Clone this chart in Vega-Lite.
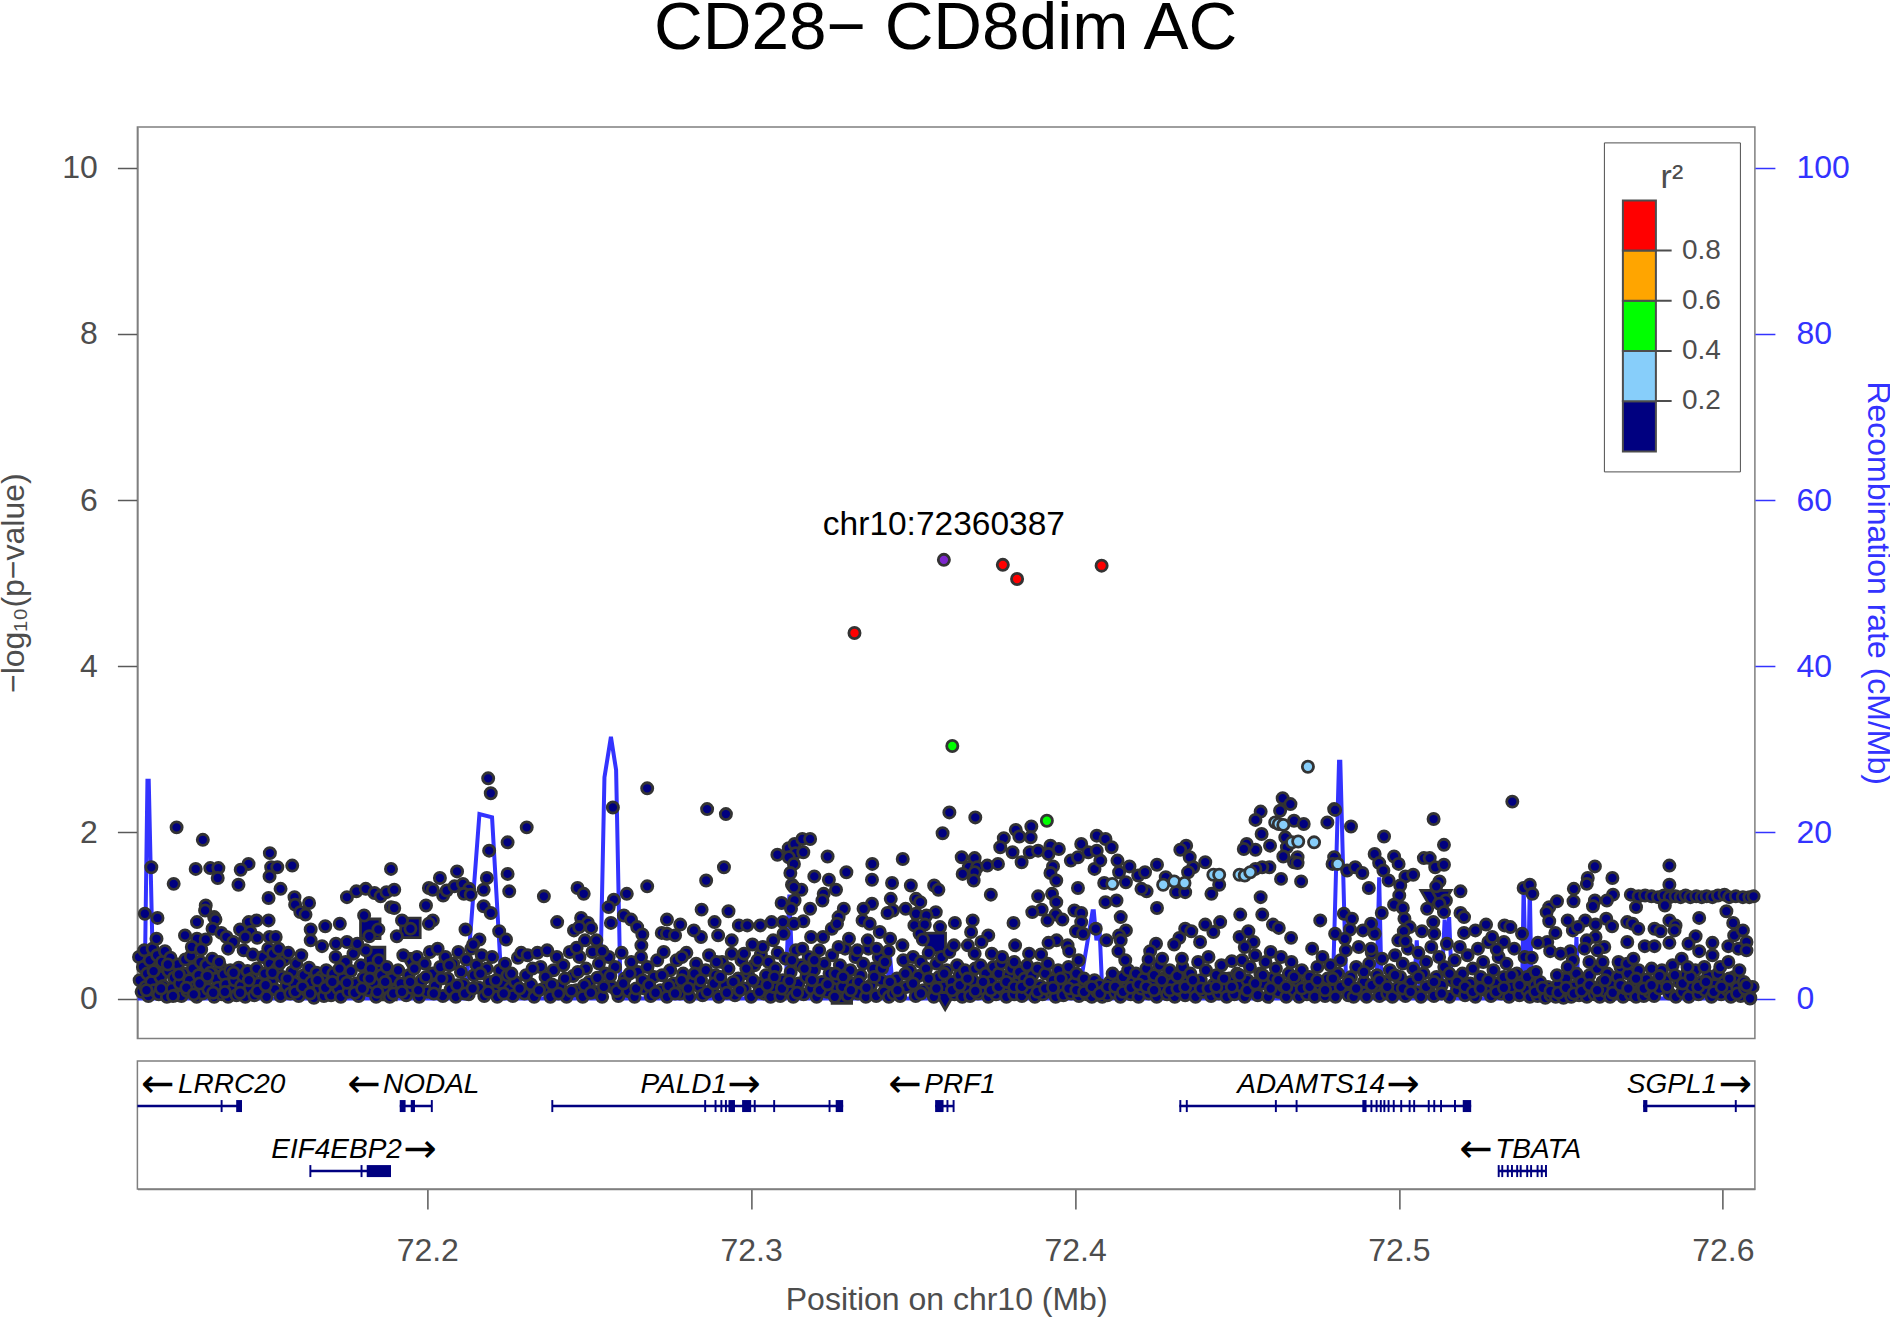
{"$schema":"https://vega.github.io/schema/vega-lite/v6.json","padding":{"top":-6,"left":-3.6,"right":0,"bottom":0},"background":"white",
"title":{"text":"CD28− CD8dim AC","fontSize":67.5,"font":"Liberation Sans","fontWeight":"normal","color":"black","anchor":"middle","offset":63},
"config":{"font":"Liberation Sans","view":{"stroke":"#7f7f7f","strokeWidth":1.5},"axis":{"grid":false,"labelFont":"Liberation Sans","titleFont":"Liberation Sans","labelFontSize":32,"titleFontSize":32,"titleFontWeight":"normal","tickSize":20,"tickWidth":1.5,"labelPadding":20,"labelColor":"#4d4d4d","titleColor":"#4d4d4d","tickColor":"#595959","domainColor":"#7f7f7f","domainWidth":1.5}},
"datasets":{
"recomb":[{"p":72.1105,"c":0},{"p":72.1127,"c":0},{"p":72.1136,"c":26.2},{"p":72.114,"c":26.2},{"p":72.1155,"c":0},{"p":72.2118,"c":0},{"p":72.2161,"c":22.2},{"p":72.22,"c":21.8},{"p":72.2232,"c":0},{"p":72.2533,"c":0},{"p":72.2547,"c":26.6},{"p":72.2567,"c":31.5},{"p":72.2583,"c":27.5},{"p":72.2597,"c":0},{"p":72.3105,"c":0},{"p":72.3118,"c":12.5},{"p":72.313,"c":0},{"p":72.3415,"c":0},{"p":72.3429,"c":5},{"p":72.344,"c":0},{"p":72.4009,"c":0},{"p":72.4054,"c":10.5},{"p":72.4058,"c":10.5},{"p":72.4066,"c":7},{"p":72.4075,"c":9},{"p":72.4085,"c":0},{"p":72.4795,"c":0},{"p":72.4815,"c":28.5},{"p":72.4819,"c":28.5},{"p":72.4838,"c":0},{"p":72.493,"c":0},{"p":72.4939,"c":14.6},{"p":72.4947,"c":0},{"p":72.5045,"c":0},{"p":72.5055,"c":7},{"p":72.5065,"c":0},{"p":72.513,"c":0},{"p":72.5141,"c":9.5},{"p":72.5148,"c":6},{"p":72.5155,"c":9.8},{"p":72.5165,"c":0},{"p":72.538,"c":0},{"p":72.5385,"c":13.6},{"p":72.5393,"c":0},{"p":72.5398,"c":0},{"p":72.5404,"c":13.4},{"p":72.541,"c":0},{"p":72.5541,"c":0},{"p":72.5548,"c":7.4},{"p":72.5555,"c":0},{"p":72.6099,"c":0}],
"special":[{"p":72.1824,"l":0.84,"k":"square"},{"p":72.1948,"l":0.85,"k":"square"},{"p":72.1839,"l":0.5,"k":"square"},{"p":72.1853,"l":0.3,"k":"square"},{"p":72.1874,"l":0.1,"k":"square"},{"p":72.357,"l":0.67,"k":"square"},{"p":72.328,"l":0.06,"k":"square"},{"p":72.1948,"l":0.44,"k":"triangle-down"},{"p":72.3599,"l":-0.03,"k":"triangle-down"},{"p":72.5098,"l":1.2,"k":"triangle-down"},{"p":72.5131,"l":1.2,"k":"triangle-down"}],
"lead":[{"p":72.3595,"l":5.28,"snp":"chr10:72360387"}],
"thr":[{"t":0.2},{"t":0.4},{"t":0.6},{"t":0.8}],
"lines":[{"s":72.1105,"e":72.1428,"row":0.648},{"s":72.1915,"e":72.2014,"row":0.648},{"s":72.2386,"e":72.3284,"row":0.648},{"s":72.3568,"e":72.3625,"row":0.648},{"s":72.4322,"e":72.5223,"row":0.648},{"s":72.5754,"e":72.6099,"row":0.648},{"s":72.1639,"e":72.1888,"row":0.14},{"s":72.5307,"e":72.5453,"row":0.14}],
"exons":[{"s":72.1362,"e":72.1368,"row":0.648},{"s":72.141,"e":72.1428,"row":0.648},{"s":72.1915,"e":72.1933,"row":0.648},{"s":72.1949,"e":72.1962,"row":0.648},{"s":72.2011,"e":72.2017,"row":0.648},{"s":72.2383,"e":72.2389,"row":0.648},{"s":72.2855,"e":72.2861,"row":0.648},{"s":72.2887,"e":72.2893,"row":0.648},{"s":72.2905,"e":72.2911,"row":0.648},{"s":72.2919,"e":72.2925,"row":0.648},{"s":72.293,"e":72.295,"row":0.648},{"s":72.2972,"e":72.3,"row":0.648},{"s":72.3008,"e":72.3014,"row":0.648},{"s":72.3068,"e":72.3074,"row":0.648},{"s":72.3239,"e":72.3245,"row":0.648},{"s":72.3261,"e":72.3284,"row":0.648},{"s":72.3568,"e":72.3594,"row":0.648},{"s":72.3603,"e":72.3609,"row":0.648},{"s":72.3622,"e":72.3628,"row":0.648},{"s":72.4322,"e":72.4328,"row":0.648},{"s":72.4342,"e":72.4348,"row":0.648},{"s":72.4617,"e":72.4623,"row":0.648},{"s":72.4681,"e":72.4687,"row":0.648},{"s":72.4887,"e":72.49,"row":0.648},{"s":72.4912,"e":72.4918,"row":0.648},{"s":72.4928,"e":72.4934,"row":0.648},{"s":72.4941,"e":72.4947,"row":0.648},{"s":72.4952,"e":72.4958,"row":0.648},{"s":72.4965,"e":72.4971,"row":0.648},{"s":72.4981,"e":72.4987,"row":0.648},{"s":72.5004,"e":72.501,"row":0.648},{"s":72.503,"e":72.5036,"row":0.648},{"s":72.5044,"e":72.505,"row":0.648},{"s":72.5089,"e":72.5095,"row":0.648},{"s":72.5106,"e":72.5112,"row":0.648},{"s":72.5127,"e":72.5133,"row":0.648},{"s":72.517,"e":72.5176,"row":0.648},{"s":72.5197,"e":72.5223,"row":0.648},{"s":72.5754,"e":72.5767,"row":0.648},{"s":72.6037,"e":72.6043,"row":0.648},{"s":72.1636,"e":72.1642,"row":0.14},{"s":72.1794,"e":72.18,"row":0.14},{"s":72.1813,"e":72.1888,"row":0.14},{"s":72.5305,"e":72.5311,"row":0.14},{"s":72.5316,"e":72.5322,"row":0.14},{"s":72.5333,"e":72.5339,"row":0.14},{"s":72.5346,"e":72.5352,"row":0.14},{"s":72.5362,"e":72.5368,"row":0.14},{"s":72.5373,"e":72.5379,"row":0.14},{"s":72.5393,"e":72.5399,"row":0.14},{"s":72.5405,"e":72.5411,"row":0.14},{"s":72.5425,"e":72.5431,"row":0.14},{"s":72.5438,"e":72.5444,"row":0.14},{"s":72.5451,"e":72.5457,"row":0.14}],
"genes":[{"g":"LRRC20","p":72.1396,"y":0.81},{"g":"NODAL","p":72.2012,"y":0.81},{"g":"PALD1","p":72.2792,"y":0.81},{"g":"PRF1","p":72.3645,"y":0.81},{"g":"ADAMTS14","p":72.4729,"y":0.81},{"g":"SGPL1","p":72.5843,"y":0.81},{"g":"EIF4EBP2","p":72.172,"y":0.305},{"g":"TBATA","p":72.543,"y":0.305}],
"arrows":[{"a":"←","p":72.1168,"y":0.81},{"a":"←","p":72.1805,"y":0.81},{"a":"→","p":72.2979,"y":0.81},{"a":"←","p":72.3475,"y":0.81},{"a":"→","p":72.5013,"y":0.81},{"a":"→","p":72.6039,"y":0.81},{"a":"→","p":72.1978,"y":0.305},{"a":"←","p":72.5238,"y":0.305}],
"pts":[
{"p":72.111,"l":0.5,"r":0},{"p":72.1112,"l":0.22,"r":0},{"p":72.1118,"l":0.08,"r":0},{"p":72.1122,"l":0.38,"r":0},{"p":72.1126,"l":0.58,"r":0},{"p":72.113,"l":0.14,"r":0},{"p":72.1135,"l":0.3,"r":0},{"p":72.1139,"l":0.03,"r":0},{"p":72.1143,"l":0.46,"r":0},{"p":72.1148,"l":0.2,"r":0},{"p":72.1152,"l":0.6,"r":0},{"p":72.1157,"l":0.1,"r":0},{"p":72.1162,"l":0.35,"r":0},{"p":72.1166,"l":0.52,"r":0},{"p":72.1171,"l":0.05,"r":0},{"p":72.1176,"l":0.26,"r":0},{"p":72.1181,"l":0.44,"r":0},{"p":72.1185,"l":0.15,"r":0},{"p":72.119,"l":0.57,"r":0},{"p":72.1196,"l":0.02,"r":0},{"p":72.1201,"l":0.33,"r":0},{"p":72.1207,"l":0.49,"r":0},{"p":72.1212,"l":0.12,"r":0},{"p":72.1218,"l":0.25,"r":0},{"p":72.1224,"l":0.04,"r":0},{"p":72.123,"l":0.41,"r":0},{"p":72.1236,"l":0.18,"r":0},{"p":72.1241,"l":0.03,"r":0},{"p":72.1247,"l":0.3,"r":0},{"p":72.1253,"l":0.47,"r":0},{"p":72.1259,"l":0.09,"r":0},{"p":72.1265,"l":0.22,"r":0},{"p":72.127,"l":0.51,"r":0},{"p":72.1276,"l":0.36,"r":0},{"p":72.1282,"l":0.14,"r":0},{"p":72.1288,"l":0.02,"r":0},{"p":72.1294,"l":0.28,"r":0},{"p":72.13,"l":0.44,"r":0},{"p":72.1306,"l":0.06,"r":0},{"p":72.1312,"l":0.19,"r":0},{"p":72.1318,"l":0.4,"r":0},{"p":72.1324,"l":0.11,"r":0},{"p":72.133,"l":0.31,"r":0},{"p":72.1336,"l":0.48,"r":0},{"p":72.1342,"l":0.02,"r":0},{"p":72.1348,"l":0.24,"r":0},{"p":72.1354,"l":0.13,"r":0},{"p":72.136,"l":0.39,"r":0},{"p":72.1366,"l":0.05,"r":0},{"p":72.1372,"l":0.29,"r":0},{"p":72.1378,"l":0.17,"r":0},{"p":72.1385,"l":0.02,"r":0},{"p":72.1392,"l":0.34,"r":0},{"p":72.1398,"l":0.1,"r":0},{"p":72.1405,"l":0.22,"r":0},{"p":72.1411,"l":0.04,"r":0},{"p":72.1418,"l":0.37,"r":0},{"p":72.1425,"l":0.15,"r":0},{"p":72.1431,"l":0.27,"r":0},{"p":72.1438,"l":0.02,"r":0},{"p":72.1445,"l":0.33,"r":0},{"p":72.1452,"l":0.12,"r":0},{"p":72.1459,"l":0.24,"r":0},{"p":72.1466,"l":0.04,"r":0},{"p":72.1473,"l":0.36,"r":0},{"p":72.1479,"l":0.18,"r":0},{"p":72.1486,"l":0.08,"r":0},{"p":72.1492,"l":0.5,"r":0},{"p":72.1498,"l":0.3,"r":0},{"p":72.1504,"l":0.02,"r":0},{"p":72.1509,"l":0.6,"r":0},{"p":72.1514,"l":0.42,"r":0},{"p":72.1519,"l":0.2,"r":0},{"p":72.1524,"l":0.54,"r":0},{"p":72.153,"l":0.11,"r":0},{"p":72.1536,"l":0.36,"r":0},{"p":72.1541,"l":0.6,"r":0},{"p":72.1547,"l":0.03,"r":0},{"p":72.1553,"l":0.26,"r":0},{"p":72.1559,"l":0.47,"r":0},{"p":72.1565,"l":0.15,"r":0},{"p":72.1571,"l":0.55,"r":0},{"p":72.1577,"l":0.06,"r":0},{"p":72.1583,"l":0.32,"r":0},{"p":72.1589,"l":0.19,"r":0},{"p":72.1596,"l":0.42,"r":0},{"p":72.1603,"l":0.03,"r":0},{"p":72.1611,"l":0.52,"r":0},{"p":72.1619,"l":0.28,"r":0},{"p":72.1627,"l":0.1,"r":0},{"p":72.1635,"l":0.37,"r":0},{"p":72.1642,"l":0.2,"r":0},{"p":72.165,"l":0.01,"r":0},{"p":72.1658,"l":0.31,"r":0},{"p":72.1666,"l":0.12,"r":0},{"p":72.1674,"l":0.26,"r":0},{"p":72.1681,"l":0.03,"r":0},{"p":72.1688,"l":0.34,"r":0},{"p":72.1695,"l":0.16,"r":0},{"p":72.1703,"l":0.04,"r":0},{"p":72.171,"l":0.3,"r":0},{"p":72.1717,"l":0.5,"r":0},{"p":72.1725,"l":0.12,"r":0},{"p":72.1733,"l":0.02,"r":0},{"p":72.174,"l":0.24,"r":0},{"p":72.1748,"l":0.44,"r":0},{"p":72.1756,"l":0.08,"r":0},{"p":72.1764,"l":0.33,"r":0},{"p":72.1772,"l":0.54,"r":0},{"p":72.178,"l":0.18,"r":0},{"p":72.1788,"l":0.03,"r":0},{"p":72.1795,"l":0.4,"r":0},{"p":72.1803,"l":0.25,"r":0},{"p":72.181,"l":0.58,"r":0},{"p":72.1818,"l":0.1,"r":0},{"p":72.1826,"l":0.36,"r":0},{"p":72.1834,"l":0.19,"r":0},{"p":72.1842,"l":0.02,"r":0},{"p":72.185,"l":0.46,"r":0},{"p":72.1858,"l":0.28,"r":0},{"p":72.1866,"l":0.13,"r":0},{"p":72.1875,"l":0.38,"r":0},{"p":72.1884,"l":0.02,"r":0},{"p":72.1892,"l":0.24,"r":0},{"p":72.1901,"l":0.1,"r":0},{"p":72.191,"l":0.34,"r":0},{"p":72.1918,"l":0.18,"r":0},{"p":72.1926,"l":0.52,"r":0},{"p":72.1935,"l":0.04,"r":0},{"p":72.1943,"l":0.28,"r":0},{"p":72.1951,"l":0.13,"r":0},{"p":72.196,"l":0.36,"r":0},{"p":72.1968,"l":0.5,"r":0},{"p":72.1975,"l":0.02,"r":0},{"p":72.1983,"l":0.22,"r":0},{"p":72.1992,"l":0.42,"r":0},{"p":72.2,"l":0.08,"r":0},{"p":72.2008,"l":0.56,"r":0},{"p":72.2016,"l":0.3,"r":0},{"p":72.2024,"l":0.15,"r":0},{"p":72.2032,"l":0.6,"r":0},{"p":72.204,"l":0.38,"r":0},{"p":72.2048,"l":0.03,"r":0},{"p":72.2056,"l":0.5,"r":0},{"p":72.2064,"l":0.24,"r":0},{"p":72.2072,"l":0.11,"r":0},{"p":72.208,"l":0.42,"r":0},{"p":72.2088,"l":0.02,"r":0},{"p":72.2096,"l":0.56,"r":0},{"p":72.2104,"l":0.32,"r":0},{"p":72.2112,"l":0.17,"r":0},{"p":72.212,"l":0.47,"r":0},{"p":72.2128,"l":0.05,"r":0},{"p":72.2136,"l":0.6,"r":0},{"p":72.2144,"l":0.28,"r":0},{"p":72.2152,"l":0.4,"r":0},{"p":72.216,"l":0.13,"r":0},{"p":72.2168,"l":0.52,"r":0},{"p":72.2176,"l":0.03,"r":0},{"p":72.2184,"l":0.36,"r":0},{"p":72.2192,"l":0.2,"r":0},{"p":72.22,"l":0.5,"r":0},{"p":72.2208,"l":0.08,"r":0},{"p":72.2216,"l":0.02,"r":0},{"p":72.2224,"l":0.34,"r":0},{"p":72.2232,"l":0.18,"r":0},{"p":72.224,"l":0.42,"r":0},{"p":72.2248,"l":0.28,"r":0},{"p":72.2256,"l":0.12,"r":0},{"p":72.2264,"l":0.03,"r":0},{"p":72.2272,"l":0.2,"r":0},{"p":72.228,"l":0.49,"r":0},{"p":72.229,"l":0.55,"r":0},{"p":72.23,"l":0.06,"r":0},{"p":72.231,"l":0.52,"r":0},{"p":72.232,"l":0.17,"r":0},{"p":72.233,"l":0.02,"r":0},{"p":72.234,"l":0.55,"r":0},{"p":72.235,"l":0.38,"r":0},{"p":72.236,"l":0.12,"r":0},{"p":72.237,"l":0.58,"r":0},{"p":72.238,"l":0.02,"r":0},{"p":72.239,"l":0.34,"r":0},{"p":72.24,"l":0.5,"r":0},{"p":72.241,"l":0.15,"r":0},{"p":72.242,"l":0.4,"r":0},{"p":72.243,"l":0.02,"r":0},{"p":72.244,"l":0.56,"r":0},{"p":72.245,"l":0.27,"r":0},{"p":72.246,"l":0.1,"r":0},{"p":72.247,"l":0.5,"r":0},{"p":72.248,"l":0.02,"r":0},{"p":72.249,"l":0.36,"r":0},{"p":72.25,"l":0.2,"r":0},{"p":72.251,"l":0.56,"r":0},{"p":72.252,"l":0.08,"r":0},{"p":72.253,"l":0.42,"r":0},{"p":72.254,"l":0.02,"r":0},{"p":72.255,"l":0.3,"r":0},{"p":72.256,"l":0.5,"r":0},{"p":72.257,"l":0.14,"r":0},{"p":72.258,"l":0.38,"r":0},{"p":72.259,"l":0.03,"r":0},{"p":72.26,"l":0.55,"r":0},{"p":72.261,"l":0.24,"r":0},{"p":72.262,"l":0.09,"r":0},{"p":72.263,"l":0.44,"r":0},{"p":72.264,"l":0.02,"r":0},{"p":72.265,"l":0.32,"r":0},{"p":72.266,"l":0.5,"r":0},{"p":72.267,"l":0.12,"r":0},{"p":72.268,"l":0.38,"r":0},{"p":72.269,"l":0.03,"r":0},{"p":72.27,"l":0.26,"r":0},{"p":72.271,"l":0.46,"r":0},{"p":72.272,"l":0.1,"r":0},{"p":72.273,"l":0.56,"r":0},{"p":72.274,"l":0.02,"r":0},{"p":72.275,"l":0.34,"r":0},{"p":72.276,"l":0.18,"r":0},{"p":72.277,"l":0.46,"r":0},{"p":72.278,"l":0.06,"r":0},{"p":72.279,"l":0.3,"r":0},{"p":72.28,"l":0.55,"r":0},{"p":72.281,"l":0.02,"r":0},{"p":72.282,"l":0.2,"r":0},{"p":72.283,"l":0.42,"r":0},{"p":72.284,"l":0.14,"r":0},{"p":72.285,"l":0.04,"r":0},{"p":72.286,"l":0.34,"r":0},{"p":72.287,"l":0.52,"r":0},{"p":72.288,"l":0.1,"r":0},{"p":72.289,"l":0.28,"r":0},{"p":72.29,"l":0.02,"r":0},{"p":72.291,"l":0.44,"r":0},{"p":72.292,"l":0.16,"r":0},{"p":72.293,"l":0.36,"r":0},{"p":72.294,"l":0.54,"r":0},{"p":72.295,"l":0.04,"r":0},{"p":72.296,"l":0.24,"r":0},{"p":72.297,"l":0.46,"r":0},{"p":72.298,"l":0.12,"r":0},{"p":72.299,"l":0.3,"r":0},{"p":72.3,"l":0.02,"r":0},{"p":72.301,"l":0.4,"r":0},{"p":72.302,"l":0.18,"r":0},{"p":72.303,"l":0.53,"r":0},{"p":72.304,"l":0.06,"r":0},{"p":72.3046,"l":0.28,"r":0},{"p":72.3054,"l":0.44,"r":0},{"p":72.306,"l":0.02,"r":0},{"p":72.3068,"l":0.14,"r":0},{"p":72.3075,"l":0.36,"r":0},{"p":72.3082,"l":0.55,"r":0},{"p":72.309,"l":0.03,"r":0},{"p":72.3098,"l":0.22,"r":0},{"p":72.3106,"l":0.48,"r":0},{"p":72.3114,"l":0.1,"r":0},{"p":72.3122,"l":0.32,"r":0},{"p":72.313,"l":0.02,"r":0},{"p":72.3138,"l":0.58,"r":0},{"p":72.3146,"l":0.18,"r":0},{"p":72.3154,"l":0.4,"r":0},{"p":72.3162,"l":0.05,"r":0},{"p":72.317,"l":0.26,"r":0},{"p":72.3178,"l":0.5,"r":0},{"p":72.3186,"l":0.12,"r":0},{"p":72.3194,"l":0.34,"r":0},{"p":72.3202,"l":0.02,"r":0},{"p":72.321,"l":0.58,"r":0},{"p":72.3218,"l":0.2,"r":0},{"p":72.3226,"l":0.42,"r":0},{"p":72.3234,"l":0.08,"r":0},{"p":72.3242,"l":0.3,"r":0},{"p":72.325,"l":0.52,"r":0},{"p":72.3258,"l":0.02,"r":0},{"p":72.3266,"l":0.24,"r":0},{"p":72.3274,"l":0.4,"r":0},{"p":72.3282,"l":0.14,"r":0},{"p":72.329,"l":0.6,"r":0},{"p":72.3298,"l":0.03,"r":0},{"p":72.3306,"l":0.34,"r":0},{"p":72.3314,"l":0.18,"r":0},{"p":72.3322,"l":0.5,"r":0},{"p":72.333,"l":0.06,"r":0},{"p":72.3338,"l":0.28,"r":0},{"p":72.3346,"l":0.42,"r":0},{"p":72.3354,"l":0.02,"r":0},{"p":72.3362,"l":0.6,"r":0},{"p":72.337,"l":0.16,"r":0},{"p":72.3378,"l":0.36,"r":0},{"p":72.3386,"l":0.03,"r":0},{"p":72.3394,"l":0.5,"r":0},{"p":72.3402,"l":0.22,"r":0},{"p":72.341,"l":0.08,"r":0},{"p":72.3425,"l":0.02,"r":0},{"p":72.344,"l":0.06,"r":0},{"p":72.345,"l":0.24,"r":0},{"p":72.346,"l":0.03,"r":0},{"p":72.347,"l":0.46,"r":0},{"p":72.348,"l":0.14,"r":0},{"p":72.349,"l":0.34,"r":0},{"p":72.35,"l":0.5,"r":0},{"p":72.3508,"l":0.03,"r":0},{"p":72.3516,"l":0.27,"r":0},{"p":72.3524,"l":0.44,"r":0},{"p":72.3532,"l":0.1,"r":0},{"p":72.354,"l":0.36,"r":0},{"p":72.3548,"l":0.55,"r":0},{"p":72.3556,"l":0.18,"r":0},{"p":72.3564,"l":0.02,"r":0},{"p":72.3572,"l":0.42,"r":0},{"p":72.358,"l":0.26,"r":0},{"p":72.3588,"l":0.5,"r":0},{"p":72.3596,"l":0.14,"r":0},{"p":72.3604,"l":0.34,"r":0},{"p":72.3612,"l":0.56,"r":0},{"p":72.362,"l":0.2,"r":0},{"p":72.3628,"l":0.05,"r":0},{"p":72.3636,"l":0.4,"r":0},{"p":72.3644,"l":0.28,"r":0},{"p":72.3652,"l":0.02,"r":0},{"p":72.366,"l":0.34,"r":0},{"p":72.3668,"l":0.13,"r":0},{"p":72.3676,"l":0.03,"r":0},{"p":72.3684,"l":0.22,"r":0},{"p":72.3692,"l":0.36,"r":0},{"p":72.37,"l":0.06,"r":0},{"p":72.3708,"l":0.4,"r":0},{"p":72.3716,"l":0.12,"r":0},{"p":72.3724,"l":0.3,"r":0},{"p":72.3732,"l":0.02,"r":0},{"p":72.374,"l":0.2,"r":0},{"p":72.3748,"l":0.38,"r":0},{"p":72.3756,"l":0.05,"r":0},{"p":72.3764,"l":0.3,"r":0},{"p":72.3772,"l":0.42,"r":0},{"p":72.378,"l":0.1,"r":0},{"p":72.3788,"l":0.02,"r":0},{"p":72.3796,"l":0.28,"r":0},{"p":72.3804,"l":0.36,"r":0},{"p":72.3812,"l":0.05,"r":0},{"p":72.382,"l":0.18,"r":0},{"p":72.3828,"l":0.32,"r":0},{"p":72.3836,"l":0.03,"r":0},{"p":72.3844,"l":0.24,"r":0},{"p":72.3852,"l":0.4,"r":0},{"p":72.386,"l":0.1,"r":0},{"p":72.3868,"l":0.28,"r":0},{"p":72.3876,"l":0.02,"r":0},{"p":72.3884,"l":0.36,"r":0},{"p":72.3892,"l":0.15,"r":0},{"p":72.39,"l":0.05,"r":0},{"p":72.3908,"l":0.3,"r":0},{"p":72.3916,"l":0.42,"r":0},{"p":72.3924,"l":0.08,"r":0},{"p":72.3932,"l":0.22,"r":0},{"p":72.394,"l":0.02,"r":0},{"p":72.3948,"l":0.34,"r":0},{"p":72.3956,"l":0.12,"r":0},{"p":72.3964,"l":0.04,"r":0},{"p":72.3972,"l":0.26,"r":0},{"p":72.398,"l":0.38,"r":0},{"p":72.3988,"l":0.06,"r":0},{"p":72.3996,"l":0.18,"r":0},{"p":72.4004,"l":0.3,"r":0},{"p":72.4012,"l":0.03,"r":0},{"p":72.402,"l":0.12,"r":0},{"p":72.4028,"l":0.24,"r":0},{"p":72.4036,"l":0.05,"r":0},{"p":72.4044,"l":0.14,"r":0},{"p":72.4052,"l":0.02,"r":0},{"p":72.406,"l":0.22,"r":0},{"p":72.4068,"l":0.08,"r":0},{"p":72.4076,"l":0.16,"r":0},{"p":72.4084,"l":0.02,"r":0},{"p":72.4092,"l":0.1,"r":0},{"p":72.41,"l":0.04,"r":0},{"p":72.4108,"l":0.2,"r":0},{"p":72.4116,"l":0.3,"r":0},{"p":72.4124,"l":0.07,"r":0},{"p":72.4132,"l":0.18,"r":0},{"p":72.414,"l":0.02,"r":0},{"p":72.4148,"l":0.26,"r":0},{"p":72.4156,"l":0.12,"r":0},{"p":72.4164,"l":0.34,"r":0},{"p":72.4172,"l":0.05,"r":0},{"p":72.418,"l":0.2,"r":0},{"p":72.4188,"l":0.3,"r":0},{"p":72.4196,"l":0.02,"r":0},{"p":72.4204,"l":0.12,"r":0},{"p":72.4212,"l":0.24,"r":0},{"p":72.422,"l":0.36,"r":0},{"p":72.4228,"l":0.06,"r":0},{"p":72.4236,"l":0.16,"r":0},{"p":72.4244,"l":0.28,"r":0},{"p":72.4252,"l":0.02,"r":0},{"p":72.426,"l":0.4,"r":0},{"p":72.4268,"l":0.12,"r":0},{"p":72.4276,"l":0.25,"r":0},{"p":72.4284,"l":0.05,"r":0},{"p":72.4292,"l":0.34,"r":0},{"p":72.43,"l":0.18,"r":0},{"p":72.4308,"l":0.02,"r":0},{"p":72.4316,"l":0.27,"r":0},{"p":72.4324,"l":0.1,"r":0},{"p":72.4332,"l":0.38,"r":0},{"p":72.434,"l":0.04,"r":0},{"p":72.4348,"l":0.2,"r":0},{"p":72.4356,"l":0.3,"r":0},{"p":72.4364,"l":0.12,"r":0},{"p":72.4372,"l":0.02,"r":0},{"p":72.438,"l":0.44,"r":0},{"p":72.4388,"l":0.22,"r":0},{"p":72.4396,"l":0.08,"r":0},{"p":72.4404,"l":0.34,"r":0},{"p":72.4412,"l":0.5,"r":0},{"p":72.442,"l":0.03,"r":0},{"p":72.4428,"l":0.17,"r":0},{"p":72.4436,"l":0.28,"r":0},{"p":72.4444,"l":0.06,"r":0},{"p":72.4452,"l":0.4,"r":0},{"p":72.446,"l":0.12,"r":0},{"p":72.4468,"l":0.02,"r":0},{"p":72.4476,"l":0.24,"r":0},{"p":72.4484,"l":0.45,"r":0},{"p":72.4492,"l":0.05,"r":0},{"p":72.45,"l":0.3,"r":0},{"p":72.4508,"l":0.16,"r":0},{"p":72.4516,"l":0.46,"r":0},{"p":72.4524,"l":0.02,"r":0},{"p":72.4532,"l":0.22,"r":0},{"p":72.454,"l":0.38,"r":0},{"p":72.4548,"l":0.1,"r":0},{"p":72.4556,"l":0.52,"r":0},{"p":72.4564,"l":0.04,"r":0},{"p":72.4572,"l":0.3,"r":0},{"p":72.458,"l":0.18,"r":0},{"p":72.4588,"l":0.44,"r":0},{"p":72.4596,"l":0.02,"r":0},{"p":72.4604,"l":0.56,"r":0},{"p":72.4612,"l":0.25,"r":0},{"p":72.462,"l":0.36,"r":0},{"p":72.4628,"l":0.08,"r":0},{"p":72.4636,"l":0.5,"r":0},{"p":72.4644,"l":0.15,"r":0},{"p":72.4652,"l":0.02,"r":0},{"p":72.466,"l":0.3,"r":0},{"p":72.4668,"l":0.44,"r":0},{"p":72.4676,"l":0.1,"r":0},{"p":72.4684,"l":0.22,"r":0},{"p":72.4692,"l":0.02,"r":0},{"p":72.47,"l":0.34,"r":0},{"p":72.4708,"l":0.14,"r":0},{"p":72.4716,"l":0.05,"r":0},{"p":72.4724,"l":0.26,"r":0},{"p":72.4732,"l":0.6,"r":0},{"p":72.474,"l":0.02,"r":0},{"p":72.4748,"l":0.38,"r":0},{"p":72.4756,"l":0.16,"r":0},{"p":72.4764,"l":0.5,"r":0},{"p":72.4772,"l":0.03,"r":0},{"p":72.478,"l":0.24,"r":0},{"p":72.4788,"l":0.4,"r":0},{"p":72.4796,"l":0.1,"r":0},{"p":72.4804,"l":0.02,"r":0},{"p":72.4812,"l":0.3,"r":0},{"p":72.482,"l":0.46,"r":0},{"p":72.4828,"l":0.14,"r":0},{"p":72.4836,"l":0.58,"r":0},{"p":72.4844,"l":0.04,"r":0},{"p":72.4852,"l":0.26,"r":0},{"p":72.486,"l":0.02,"r":0},{"p":72.4868,"l":0.38,"r":0},{"p":72.4876,"l":0.62,"r":0},{"p":72.4884,"l":0.1,"r":0},{"p":72.4892,"l":0.2,"r":0},{"p":72.49,"l":0.02,"r":0},{"p":72.4908,"l":0.42,"r":0},{"p":72.4916,"l":0.55,"r":0},{"p":72.4924,"l":0.14,"r":0},{"p":72.4932,"l":0.28,"r":0},{"p":72.494,"l":0.03,"r":0},{"p":72.4948,"l":0.48,"r":0},{"p":72.4956,"l":0.2,"r":0},{"p":72.4964,"l":0.06,"r":0},{"p":72.4972,"l":0.34,"r":0},{"p":72.498,"l":0.02,"r":0},{"p":72.4988,"l":0.52,"r":0},{"p":72.4996,"l":0.13,"r":0},{"p":72.5004,"l":0.26,"r":0},{"p":72.5012,"l":0.42,"r":0},{"p":72.502,"l":0.03,"r":0},{"p":72.5028,"l":0.6,"r":0},{"p":72.5036,"l":0.2,"r":0},{"p":72.5044,"l":0.36,"r":0},{"p":72.5052,"l":0.08,"r":0},{"p":72.506,"l":0.55,"r":0},{"p":72.5068,"l":0.02,"r":0},{"p":72.5076,"l":0.3,"r":0},{"p":72.5084,"l":0.44,"r":0},{"p":72.5092,"l":0.14,"r":0},{"p":72.51,"l":0.62,"r":0},{"p":72.5108,"l":0.03,"r":0},{"p":72.5116,"l":0.26,"r":0},{"p":72.5124,"l":0.5,"r":0},{"p":72.5132,"l":0.16,"r":0},{"p":72.514,"l":0.38,"r":0},{"p":72.5148,"l":0.66,"r":0},{"p":72.5156,"l":0.02,"r":0},{"p":72.5164,"l":0.22,"r":0},{"p":72.5172,"l":0.46,"r":0},{"p":72.518,"l":0.1,"r":0},{"p":72.5188,"l":0.62,"r":0},{"p":72.5196,"l":0.3,"r":0},{"p":72.5204,"l":0.04,"r":0},{"p":72.5212,"l":0.52,"r":0},{"p":72.522,"l":0.18,"r":0},{"p":72.5228,"l":0.36,"r":0},{"p":72.5236,"l":0.02,"r":0},{"p":72.5244,"l":0.6,"r":0},{"p":72.5252,"l":0.26,"r":0},{"p":72.526,"l":0.44,"r":0},{"p":72.5268,"l":0.1,"r":0},{"p":72.5276,"l":0.68,"r":0},{"p":72.5284,"l":0.03,"r":0},{"p":72.5292,"l":0.34,"r":0},{"p":72.53,"l":0.18,"r":0},{"p":72.5308,"l":0.5,"r":0},{"p":72.5316,"l":0.06,"r":0},{"p":72.5324,"l":0.26,"r":0},{"p":72.5332,"l":0.42,"r":0},{"p":72.534,"l":0.02,"r":0},{"p":72.5348,"l":0.14,"r":0},{"p":72.5356,"l":0.6,"r":0},{"p":72.5364,"l":0.3,"r":0},{"p":72.5372,"l":0.04,"r":0},{"p":72.538,"l":0.2,"r":0},{"p":72.5388,"l":0.5,"r":0},{"p":72.5396,"l":0.1,"r":0},{"p":72.5404,"l":0.02,"r":0},{"p":72.5412,"l":0.3,"r":0},{"p":72.542,"l":0.16,"r":0},{"p":72.5428,"l":0.03,"r":0},{"p":72.5436,"l":0.2,"r":0},{"p":72.5444,"l":0.07,"r":0},{"p":72.5452,"l":0.01,"r":0},{"p":72.546,"l":0.14,"r":0},{"p":72.5468,"l":0.04,"r":0},{"p":72.5476,"l":0.1,"r":0},{"p":72.5484,"l":0.02,"r":0},{"p":72.5492,"l":0.17,"r":0},{"p":72.55,"l":0.05,"r":0},{"p":72.5508,"l":0.01,"r":0},{"p":72.5516,"l":0.24,"r":0},{"p":72.5524,"l":0.08,"r":0},{"p":72.5532,"l":0.02,"r":0},{"p":72.554,"l":0.14,"r":0},{"p":72.5548,"l":0.3,"r":0},{"p":72.5556,"l":0.04,"r":0},{"p":72.5564,"l":0.2,"r":0},{"p":72.5572,"l":0.1,"r":0},{"p":72.558,"l":0.02,"r":0},{"p":72.5588,"l":0.28,"r":0},{"p":72.5596,"l":0.14,"r":0},{"p":72.5604,"l":0.05,"r":0},{"p":72.5612,"l":0.36,"r":0},{"p":72.562,"l":0.02,"r":0},{"p":72.5628,"l":0.2,"r":0},{"p":72.5636,"l":0.09,"r":0},{"p":72.5644,"l":0.3,"r":0},{"p":72.5652,"l":0.02,"r":0},{"p":72.566,"l":0.16,"r":0},{"p":72.5668,"l":0.06,"r":0},{"p":72.5676,"l":0.26,"r":0},{"p":72.5684,"l":0.38,"r":0},{"p":72.5692,"l":0.02,"r":0},{"p":72.57,"l":0.12,"r":0},{"p":72.5708,"l":0.3,"r":0},{"p":72.5716,"l":0.05,"r":0},{"p":72.5724,"l":0.2,"r":0},{"p":72.5732,"l":0.02,"r":0},{"p":72.574,"l":0.34,"r":0},{"p":72.5748,"l":0.12,"r":0},{"p":72.5756,"l":0.03,"r":0},{"p":72.5764,"l":0.23,"r":0},{"p":72.5772,"l":0.08,"r":0},{"p":72.578,"l":0.36,"r":0},{"p":72.5788,"l":0.03,"r":0},{"p":72.5796,"l":0.2,"r":0},{"p":72.5804,"l":0.12,"r":0},{"p":72.5812,"l":0.34,"r":0},{"p":72.5822,"l":0.22,"r":0},{"p":72.5835,"l":0.06,"r":0},{"p":72.5845,"l":0.4,"r":0},{"p":72.5855,"l":0.02,"r":0},{"p":72.5865,"l":0.2,"r":0},{"p":72.5875,"l":0.08,"r":0},{"p":72.5885,"l":0.28,"r":0},{"p":72.5895,"l":0.02,"r":0},{"p":72.5905,"l":0.14,"r":0},{"p":72.5915,"l":0.34,"r":0},{"p":72.5925,"l":0.05,"r":0},{"p":72.5935,"l":0.2,"r":0},{"p":72.5945,"l":0.1,"r":0},{"p":72.5955,"l":0.27,"r":0},{"p":72.5965,"l":0.02,"r":0},{"p":72.5975,"l":0.16,"r":0},{"p":72.5985,"l":0.3,"r":0},{"p":72.5995,"l":0.05,"r":0},{"p":72.6005,"l":0.2,"r":0},{"p":72.6015,"l":0.1,"r":0},{"p":72.6025,"l":0.02,"r":0},{"p":72.6035,"l":0.26,"r":0},{"p":72.6045,"l":0.13,"r":0},{"p":72.6055,"l":0.03,"r":0},{"p":72.6065,"l":0.2,"r":0},{"p":72.6075,"l":0.08,"r":0},{"p":72.6085,"l":0.01,"r":0},{"p":72.6092,"l":0.14,"r":0},
{"p":72.1133,"l":0.1,"r":0},{"p":72.1155,"l":0.33,"r":0},{"p":72.1178,"l":0.12,"r":0},{"p":72.1199,"l":0.41,"r":0},{"p":72.1215,"l":0.03,"r":0},{"p":72.1233,"l":0.29,"r":0},{"p":72.1256,"l":0.13,"r":0},{"p":72.1279,"l":0.05,"r":0},{"p":72.1297,"l":0.18,"r":0},{"p":72.1321,"l":0.27,"r":0},{"p":72.1339,"l":0.07,"r":0},{"p":72.1357,"l":0.44,"r":0},{"p":72.1375,"l":0.08,"r":0},{"p":72.1402,"l":0.31,"r":0},{"p":72.1422,"l":0.07,"r":0},{"p":72.1449,"l":0.22,"r":0},{"p":72.1476,"l":0.09,"r":0},{"p":72.1501,"l":0.16,"r":0},{"p":72.1522,"l":0.31,"r":0},{"p":72.1544,"l":0.42,"r":0},{"p":72.1568,"l":0.24,"r":0},{"p":72.1592,"l":0.08,"r":0},{"p":72.1615,"l":0.14,"r":0},{"p":72.1638,"l":0.06,"r":0},{"p":72.1661,"l":0.22,"r":0},{"p":72.1685,"l":0.13,"r":0},{"p":72.1707,"l":0.2,"r":0},{"p":72.1729,"l":0.36,"r":0},{"p":72.1752,"l":0.19,"r":0},{"p":72.1776,"l":0.07,"r":0},{"p":72.1799,"l":0.12,"r":0},{"p":72.1822,"l":0.24,"r":0},{"p":72.1846,"l":0.08,"r":0},{"p":72.187,"l":0.2,"r":0},{"p":72.1895,"l":0.06,"r":0},{"p":72.1922,"l":0.08,"r":0},{"p":72.1947,"l":0.2,"r":0},{"p":72.1972,"l":0.1,"r":0},{"p":72.1996,"l":0.26,"r":0},{"p":72.202,"l":0.06,"r":0},{"p":72.2044,"l":0.24,"r":0},{"p":72.2068,"l":0.4,"r":0},{"p":72.2092,"l":0.16,"r":0},{"p":72.2116,"l":0.06,"r":0},{"p":72.214,"l":0.12,"r":0},{"p":72.2164,"l":0.3,"r":0},{"p":72.2188,"l":0.08,"r":0},{"p":72.2212,"l":0.22,"r":0},{"p":72.2236,"l":0.06,"r":0},{"p":72.226,"l":0.3,"r":0},{"p":72.2285,"l":0.12,"r":0},{"p":72.2305,"l":0.28,"r":0},{"p":72.2325,"l":0.36,"r":0},{"p":72.2345,"l":0.1,"r":0},{"p":72.2365,"l":0.26,"r":0},{"p":72.2385,"l":0.17,"r":0},{"p":72.2405,"l":0.06,"r":0},{"p":72.2425,"l":0.24,"r":0},{"p":72.2445,"l":0.09,"r":0},{"p":72.2465,"l":0.32,"r":0},{"p":72.2485,"l":0.16,"r":0},{"p":72.2505,"l":0.07,"r":0},{"p":72.2525,"l":0.25,"r":0},{"p":72.2545,"l":0.14,"r":0},{"p":72.2565,"l":0.27,"r":0},{"p":72.2585,"l":0.09,"r":0},{"p":72.2605,"l":0.18,"r":0},{"p":72.2625,"l":0.3,"r":0},{"p":72.2645,"l":0.12,"r":0},{"p":72.2665,"l":0.22,"r":0},{"p":72.2685,"l":0.16,"r":0},{"p":72.2705,"l":0.07,"r":0},{"p":72.2725,"l":0.28,"r":0},{"p":72.2745,"l":0.15,"r":0},{"p":72.2765,"l":0.06,"r":0},{"p":72.2785,"l":0.22,"r":0},{"p":72.2805,"l":0.12,"r":0},{"p":72.2825,"l":0.3,"r":0},{"p":72.2845,"l":0.22,"r":0},{"p":72.2865,"l":0.08,"r":0},{"p":72.2885,"l":0.18,"r":0},{"p":72.2905,"l":0.26,"r":0},{"p":72.2925,"l":0.07,"r":0},{"p":72.2945,"l":0.2,"r":0},{"p":72.2965,"l":0.1,"r":0},{"p":72.2985,"l":0.36,"r":0},{"p":72.3005,"l":0.22,"r":0},{"p":72.3025,"l":0.08,"r":0},{"p":72.305,"l":0.16,"r":0},{"p":72.3072,"l":0.26,"r":0},{"p":72.3095,"l":0.12,"r":0},{"p":72.3118,"l":0.21,"r":0},{"p":72.3142,"l":0.07,"r":0},{"p":72.3165,"l":0.36,"r":0},{"p":72.3188,"l":0.22,"r":0},{"p":72.3212,"l":0.1,"r":0},{"p":72.3236,"l":0.17,"r":0},{"p":72.326,"l":0.3,"r":0},{"p":72.3284,"l":0.26,"r":0},{"p":72.3308,"l":0.1,"r":0},{"p":72.3332,"l":0.2,"r":0},{"p":72.3356,"l":0.13,"r":0},{"p":72.338,"l":0.26,"r":0},{"p":72.3404,"l":0.36,"r":0},{"p":72.3428,"l":0.2,"r":0},{"p":72.3452,"l":0.1,"r":0},{"p":72.3476,"l":0.3,"r":0},{"p":72.35,"l":0.18,"r":0},{"p":72.3524,"l":0.06,"r":0},{"p":72.3548,"l":0.24,"r":0},{"p":72.3572,"l":0.12,"r":0},{"p":72.3596,"l":0.3,"r":0},{"p":72.362,"l":0.1,"r":0},{"p":72.3644,"l":0.16,"r":0},{"p":72.3668,"l":0.24,"r":0},{"p":72.3692,"l":0.09,"r":0},{"p":72.3716,"l":0.2,"r":0},{"p":72.374,"l":0.1,"r":0},{"p":72.3764,"l":0.14,"r":0},{"p":72.3788,"l":0.2,"r":0},{"p":72.3812,"l":0.14,"r":0},{"p":72.3836,"l":0.14,"r":0},{"p":72.386,"l":0.2,"r":0},{"p":72.3884,"l":0.08,"r":0},{"p":72.3908,"l":0.12,"r":0},{"p":72.3932,"l":0.13,"r":0},{"p":72.3956,"l":0.24,"r":0},{"p":72.398,"l":0.12,"r":0},{"p":72.4004,"l":0.1,"r":0},{"p":72.4028,"l":0.08,"r":0},{"p":72.4052,"l":0.14,"r":0},{"p":72.4076,"l":0.06,"r":0},{"p":72.41,"l":0.14,"r":0},{"p":72.4124,"l":0.14,"r":0},{"p":72.4148,"l":0.08,"r":0},{"p":72.4172,"l":0.13,"r":0},{"p":72.4196,"l":0.17,"r":0},{"p":72.422,"l":0.14,"r":0},{"p":72.4244,"l":0.1,"r":0},{"p":72.4268,"l":0.22,"r":0},{"p":72.4292,"l":0.1,"r":0},{"p":72.4316,"l":0.12,"r":0},{"p":72.434,"l":0.14,"r":0},{"p":72.4364,"l":0.22,"r":0},{"p":72.4388,"l":0.12,"r":0},{"p":72.4412,"l":0.12,"r":0},{"p":72.4436,"l":0.14,"r":0},{"p":72.446,"l":0.24,"r":0},{"p":72.4484,"l":0.14,"r":0},{"p":72.4508,"l":0.28,"r":0},{"p":72.4532,"l":0.1,"r":0},{"p":72.4556,"l":0.18,"r":0},{"p":72.458,"l":0.28,"r":0},{"p":72.4604,"l":0.12,"r":0},{"p":72.4628,"l":0.22,"r":0},{"p":72.4652,"l":0.14,"r":0},{"p":72.4676,"l":0.26,"r":0},{"p":72.47,"l":0.12,"r":0},{"p":72.4724,"l":0.14,"r":0},{"p":72.4748,"l":0.22,"r":0},{"p":72.4772,"l":0.1,"r":0},{"p":72.4796,"l":0.24,"r":0},{"p":72.482,"l":0.14,"r":0},{"p":72.4844,"l":0.2,"r":0},{"p":72.4868,"l":0.12,"r":0},{"p":72.4892,"l":0.32,"r":0},{"p":72.4916,"l":0.16,"r":0},{"p":72.494,"l":0.22,"r":0},{"p":72.4964,"l":0.14,"r":0},{"p":72.4988,"l":0.28,"r":0},{"p":72.5012,"l":0.12,"r":0},{"p":72.5036,"l":0.08,"r":0},{"p":72.506,"l":0.26,"r":0},{"p":72.5084,"l":0.14,"r":0},{"p":72.5108,"l":0.2,"r":0},{"p":72.5132,"l":0.06,"r":0},{"p":72.5156,"l":0.3,"r":0},{"p":72.518,"l":0.2,"r":0},{"p":72.5204,"l":0.14,"r":0},{"p":72.5228,"l":0.08,"r":0},{"p":72.5252,"l":0.12,"r":0},{"p":72.5276,"l":0.22,"r":0},{"p":72.53,"l":0.08,"r":0},{"p":72.5324,"l":0.13,"r":0},{"p":72.5348,"l":0.28,"r":0},{"p":72.5372,"l":0.16,"r":0},{"p":72.5396,"l":0.26,"r":0},{"p":72.542,"l":0.08,"r":0},{"p":72.5444,"l":0.13,"r":0},{"p":72.5468,"l":0.09,"r":0},{"p":72.5492,"l":0.07,"r":0},{"p":72.5516,"l":0.13,"r":0},{"p":72.554,"l":0.06,"r":0},{"p":72.5564,"l":0.09,"r":0},{"p":72.5588,"l":0.16,"r":0},{"p":72.5612,"l":0.1,"r":0},{"p":72.5636,"l":0.22,"r":0},{"p":72.566,"l":0.07,"r":0},{"p":72.5684,"l":0.16,"r":0},{"p":72.5708,"l":0.12,"r":0},{"p":72.5732,"l":0.24,"r":0},{"p":72.5756,"l":0.12,"r":0},{"p":72.578,"l":0.16,"r":0},{"p":72.5804,"l":0.27,"r":0},{"p":72.5828,"l":0.14,"r":0},{"p":72.5852,"l":0.28,"r":0},{"p":72.5876,"l":0.18,"r":0},{"p":72.59,"l":0.26,"r":0},{"p":72.5924,"l":0.14,"r":0},{"p":72.5948,"l":0.2,"r":0},{"p":72.5972,"l":0.08,"r":0},{"p":72.5996,"l":0.14,"r":0},{"p":72.602,"l":0.24,"r":0},{"p":72.6044,"l":0.06,"r":0},{"p":72.6068,"l":0.12,"r":0},
{"p":72.1226,"l":2.06,"r":0},{"p":72.1307,"l":1.91,"r":0},{"p":72.1148,"l":1.58,"r":0},{"p":72.1285,"l":1.56,"r":0},{"p":72.133,"l":1.57,"r":0},{"p":72.1355,"l":1.57,"r":0},{"p":72.1353,"l":1.45,"r":0},{"p":72.1217,"l":1.38,"r":0},{"p":72.1448,"l":1.62,"r":0},{"p":72.1424,"l":1.55,"r":0},{"p":72.1417,"l":1.37,"r":0},{"p":72.1514,"l":1.75,"r":0},{"p":72.1518,"l":1.58,"r":0},{"p":72.1537,"l":1.58,"r":0},{"p":72.1583,"l":1.6,"r":0},{"p":72.1513,"l":1.47,"r":0},{"p":72.1547,"l":1.32,"r":0},{"p":72.151,"l":1.21,"r":0},{"p":72.1128,"l":1.02,"r":0},{"p":72.1167,"l":0.97,"r":0},{"p":72.1316,"l":1.12,"r":0},{"p":72.1314,"l":1.06,"r":0},{"p":72.1342,"l":0.98,"r":0},{"p":72.1289,"l":0.92,"r":0},{"p":72.1346,"l":0.95,"r":0},{"p":72.1337,"l":0.84,"r":0},{"p":72.1164,"l":0.72,"r":0},{"p":72.1252,"l":0.76,"r":0},{"p":72.1289,"l":0.72,"r":0},{"p":72.1316,"l":0.71,"r":0},{"p":72.1273,"l":0.62,"r":0},{"p":72.1302,"l":0.59,"r":0},{"p":72.1364,"l":0.79,"r":0},{"p":72.138,"l":0.74,"r":0},{"p":72.1401,"l":0.68,"r":0},{"p":72.1385,"l":0.6,"r":0},{"p":72.1422,"l":0.83,"r":0},{"p":72.1449,"l":0.92,"r":0},{"p":72.1473,"l":0.94,"r":0},{"p":72.151,"l":0.94,"r":0},{"p":72.1454,"l":0.8,"r":0},{"p":72.1438,"l":0.74,"r":0},{"p":72.1475,"l":0.73,"r":0},{"p":72.1513,"l":0.74,"r":0},{"p":72.1532,"l":0.74,"r":0},{"p":72.1433,"l":0.58,"r":0},{"p":72.1461,"l":0.53,"r":0},{"p":72.159,"l":1.22,"r":0},{"p":72.1592,"l":1.13,"r":0},{"p":72.1635,"l":1.15,"r":0},{"p":72.1608,"l":1.04,"r":0},{"p":72.1624,"l":1.01,"r":0},{"p":72.164,"l":0.83,"r":0},{"p":72.164,"l":0.7,"r":0},{"p":72.1675,"l":0.63,"r":0},{"p":72.1685,"l":0.87,"r":0},{"p":72.173,"l":0.9,"r":0},{"p":72.1718,"l":0.66,"r":0},{"p":72.1752,"l":0.68,"r":0},{"p":72.1784,"l":0.66,"r":0},{"p":72.1752,"l":1.22,"r":0},{"p":72.1781,"l":1.29,"r":0},{"p":72.181,"l":1.32,"r":0},{"p":72.1837,"l":1.27,"r":0},{"p":72.1856,"l":1.23,"r":0},{"p":72.1874,"l":1.28,"r":0},{"p":72.1898,"l":1.31,"r":0},{"p":72.1888,"l":1.56,"r":0},{"p":72.1888,"l":1.1,"r":0},{"p":72.1898,"l":1.09,"r":0},{"p":72.1805,"l":1,"r":0},{"p":72.1849,"l":0.83,"r":0},{"p":72.1821,"l":0.75,"r":0},{"p":72.1922,"l":0.94,"r":0},{"p":72.1906,"l":0.75,"r":0},{"p":72.1948,"l":0.84,"r":0},{"p":72.2017,"l":0.94,"r":0},{"p":72.1996,"l":1.12,"r":0},{"p":72.2005,"l":0.9,"r":0},{"p":72.2005,"l":1.33,"r":0},{"p":72.2039,"l":1.45,"r":0},{"p":72.2017,"l":1.31,"r":0},{"p":72.2049,"l":1.24,"r":0},{"p":72.206,"l":1.3,"r":0},{"p":72.2084,"l":1.35,"r":0},{"p":72.2092,"l":1.53,"r":0},{"p":72.211,"l":1.38,"r":0},{"p":72.2129,"l":1.32,"r":0},{"p":72.2113,"l":1.26,"r":0},{"p":72.2134,"l":1.25,"r":0},{"p":72.2118,"l":0.83,"r":0},{"p":72.2188,"l":2.65,"r":0},{"p":72.2196,"l":2.47,"r":0},{"p":72.2191,"l":1.78,"r":0},{"p":72.2248,"l":1.88,"r":0},{"p":72.2307,"l":2.06,"r":0},{"p":72.2248,"l":1.5,"r":0},{"p":72.2253,"l":1.29,"r":0},{"p":72.2184,"l":1.45,"r":0},{"p":72.2174,"l":1.31,"r":0},{"p":72.2174,"l":1.11,"r":0},{"p":72.2196,"l":1.03,"r":0},{"p":72.2222,"l":0.81,"r":0},{"p":72.2243,"l":0.71,"r":0},{"p":72.2161,"l":0.71,"r":0},{"p":72.2142,"l":0.65,"r":0},{"p":72.236,"l":1.23,"r":0},{"p":72.2401,"l":0.92,"r":0},{"p":72.2464,"l":1.33,"r":0},{"p":72.2483,"l":1.26,"r":0},{"p":72.2573,"l":2.3,"r":0},{"p":72.2679,"l":2.53,"r":0},{"p":72.2679,"l":1.35,"r":0},{"p":72.2616,"l":1.26,"r":0},{"p":72.2576,"l":1.19,"r":0},{"p":72.256,"l":1.1,"r":0},{"p":72.2475,"l":0.97,"r":0},{"p":72.2453,"l":0.82,"r":0},{"p":72.2496,"l":0.91,"r":0},{"p":72.2506,"l":0.85,"r":0},{"p":72.2469,"l":0.86,"r":0},{"p":72.2567,"l":0.91,"r":0},{"p":72.2607,"l":1,"r":0},{"p":72.2629,"l":0.95,"r":0},{"p":72.2648,"l":0.86,"r":0},{"p":72.2664,"l":0.77,"r":0},{"p":72.2661,"l":0.64,"r":0},{"p":72.274,"l":0.95,"r":0},{"p":72.2724,"l":0.79,"r":0},{"p":72.274,"l":0.78,"r":0},{"p":72.2487,"l":0.7,"r":0},{"p":72.2522,"l":0.7,"r":0},{"p":72.2461,"l":0.61,"r":0},{"p":72.254,"l":0.57,"r":0},
{"p":72.2864,"l":2.28,"r":0},{"p":72.2922,"l":2.22,"r":0},{"p":72.2916,"l":1.58,"r":0},{"p":72.2861,"l":1.42,"r":0},{"p":72.2847,"l":1.07,"r":0},{"p":72.293,"l":1.05,"r":0},{"p":72.2887,"l":0.92,"r":0},{"p":72.2781,"l":0.89,"r":0},{"p":72.3081,"l":1.73,"r":0},{"p":72.3116,"l":1.81,"r":0},{"p":72.3134,"l":1.86,"r":0},{"p":72.3158,"l":1.92,"r":0},{"p":72.3182,"l":1.92,"r":0},{"p":72.3137,"l":1.75,"r":0},{"p":72.3161,"l":1.76,"r":0},{"p":72.3116,"l":1.7,"r":0},{"p":72.3132,"l":1.62,"r":0},{"p":72.3121,"l":1.51,"r":0},{"p":72.3126,"l":1.37,"r":0},{"p":72.3155,"l":1.31,"r":0},{"p":72.3132,"l":1.34,"r":0},{"p":72.3236,"l":1.71,"r":0},{"p":72.3294,"l":1.52,"r":0},{"p":72.3195,"l":1.47,"r":0},{"p":72.324,"l":1.43,"r":0},{"p":72.3262,"l":1.31,"r":0},{"p":72.3224,"l":1.26,"r":0},{"p":72.322,"l":1.18,"r":0},{"p":72.3094,"l":1.15,"r":0},{"p":72.3134,"l":1.18,"r":0},{"p":72.3123,"l":1.08,"r":0},{"p":72.3182,"l":1.08,"r":0},{"p":72.3286,"l":1.08,"r":0},{"p":72.327,"l":0.98,"r":0},{"p":72.3161,"l":0.93,"r":0},{"p":72.3063,"l":0.92,"r":0},{"p":72.3098,"l":0.92,"r":0},{"p":72.3132,"l":0.9,"r":0},{"p":72.2962,"l":0.88,"r":0},{"p":72.2988,"l":0.88,"r":0},{"p":72.3028,"l":0.88,"r":0},{"p":72.3374,"l":1.62,"r":0},{"p":72.3373,"l":1.43,"r":0},{"p":72.3468,"l":1.68,"r":0},{"p":72.3435,"l":1.39,"r":0},{"p":72.3493,"l":1.36,"r":0},{"p":72.3565,"l":1.36,"r":0},{"p":72.3578,"l":1.31,"r":0},{"p":72.3431,"l":1.2,"r":0},{"p":72.3438,"l":1.06,"r":0},{"p":72.3421,"l":1.03,"r":0},{"p":72.3477,"l":1.08,"r":0},{"p":72.3373,"l":1.14,"r":0},{"p":72.3347,"l":1.08,"r":0},{"p":72.3344,"l":0.94,"r":0},{"p":72.3366,"l":0.9,"r":0},{"p":72.3397,"l":0.8,"r":0},{"p":72.3509,"l":1.2,"r":0},{"p":72.3522,"l":1.16,"r":0},{"p":72.3509,"l":1.02,"r":0},{"p":72.357,"l":1.04,"r":0},{"p":72.3541,"l":1,"r":0},{"p":72.3504,"l":0.88,"r":0},{"p":72.3536,"l":0.89,"r":0},{"p":72.3583,"l":0.86,"r":0},{"p":72.3629,"l":0.91,"r":0},{"p":72.3684,"l":0.94,"r":0},{"p":72.352,"l":0.78,"r":0},{"p":72.353,"l":0.71,"r":0},{"p":72.3612,"l":2.24,"r":0},{"p":72.3692,"l":2.18,"r":0},{"p":72.3591,"l":1.99,"r":0},{"p":72.365,"l":1.7,"r":0},{"p":72.369,"l":1.69,"r":0},{"p":72.3672,"l":1.58,"r":0},{"p":72.3698,"l":1.58,"r":0},{"p":72.3653,"l":1.5,"r":0},{"p":72.369,"l":1.52,"r":0},{"p":72.3687,"l":1.42,"r":0},{"p":72.3729,"l":1.6,"r":0},{"p":72.3762,"l":1.62,"r":0},{"p":72.374,"l":1.25,"r":0},{"p":72.378,"l":1.93,"r":0},{"p":72.3769,"l":1.82,"r":0},{"p":72.3817,"l":2.03,"r":0},{"p":72.3828,"l":1.95,"r":0},{"p":72.3865,"l":2.07,"r":0},{"p":72.3863,"l":1.94,"r":0},{"p":72.3807,"l":1.76,"r":0},{"p":72.3835,"l":1.64,"r":0},{"p":72.386,"l":1.76,"r":0},{"p":72.3886,"l":1.78,"r":0},{"p":72.3924,"l":1.84,"r":0},{"p":72.395,"l":1.8,"r":0},{"p":72.3918,"l":1.74,"r":0},{"p":72.3932,"l":1.59,"r":0},{"p":72.3924,"l":1.51,"r":0},{"p":72.3942,"l":1.42,"r":0},{"p":72.3987,"l":1.66,"r":0},{"p":72.4019,"l":1.86,"r":0},{"p":72.4009,"l":1.7,"r":0},{"p":72.4041,"l":1.76,"r":0},{"p":72.4067,"l":1.96,"r":0},{"p":72.4094,"l":1.92,"r":0},{"p":72.4113,"l":1.82,"r":0},{"p":72.406,"l":1.56,"r":0},{"p":72.4078,"l":1.66,"r":0},{"p":72.4067,"l":1.78,"r":0},{"p":72.4009,"l":1.33,"r":0},{"p":72.409,"l":1.39,"r":0},{"p":72.4094,"l":1.16,"r":0},{"p":72.4128,"l":1.18,"r":0},{"p":72.3886,"l":1.23,"r":0},{"p":72.3929,"l":1.26,"r":0},{"p":72.3942,"l":1.16,"r":0},{"p":72.3897,"l":1.07,"r":0},{"p":72.3868,"l":1.04,"r":0},{"p":72.394,"l":1.01,"r":0},{"p":72.3915,"l":0.94,"r":0},{"p":72.3961,"l":0.95,"r":0},{"p":72.3998,"l":1.06,"r":0},{"p":72.4019,"l":1.03,"r":0},{"p":72.4019,"l":0.92,"r":0},{"p":72.4003,"l":0.81,"r":0},{"p":72.4025,"l":0.78,"r":0},{"p":72.4064,"l":0.84,"r":0},{"p":72.4097,"l":0.7,"r":0},{"p":72.381,"l":0.91,"r":0},{"p":72.4141,"l":0.98,"r":0},{"p":72.4157,"l":0.82,"r":0},{"p":72.4136,"l":0.76,"r":0},{"p":72.4141,"l":0.7,"r":0},{"p":72.4134,"l":0.57,"r":0},{"p":72.4155,"l":0.46,"r":0},{"p":72.4253,"l":1.09,"r":0},{"p":72.4131,"l":1.66,"r":0},{"p":72.4168,"l":1.59,"r":0},{"p":72.4157,"l":1.4,"r":0},{"p":72.4136,"l":1.52,"r":0},{"p":72.4195,"l":1.48,"r":0},{"p":72.4216,"l":1.52,"r":0},{"p":72.4221,"l":1.29,"r":0},{"p":72.4205,"l":1.32,"r":0},{"p":72.4253,"l":1.61,"r":0},{"p":72.428,"l":1.46,"r":0},{"p":72.4312,"l":1.28,"r":0},{"p":72.434,"l":1.28,"r":0},{"p":72.4343,"l":1.84,"r":0},{"p":72.4325,"l":1.79,"r":0},{"p":72.4354,"l":1.7,"r":0},{"p":72.4365,"l":1.58,"r":0},{"p":72.4402,"l":1.64,"r":0},{"p":72.4349,"l":1.52,"r":0},{"p":72.434,"l":0.84,"r":0},{"p":72.4359,"l":0.81,"r":0},{"p":72.4322,"l":0.73,"r":0},{"p":72.4306,"l":0.65,"r":0},{"p":72.425,"l":0.66,"r":0},{"p":72.4232,"l":0.57,"r":0},{"p":72.4227,"l":0.47,"r":0},{"p":72.4269,"l":0.48,"r":0},{"p":72.433,"l":0.48,"r":0},{"p":72.4402,"l":0.89,"r":0},{"p":72.4386,"l":0.68,"r":0},{"p":72.3815,"l":0.64,"r":0},{"p":72.3858,"l":0.54,"r":0},{"p":72.3895,"l":0.53,"r":0},{"p":72.3943,"l":0.7,"r":0},{"p":72.3977,"l":0.64,"r":0},{"p":72.3982,"l":0.57,"r":0},{"p":72.4011,"l":0.46,"r":0},{"p":72.3918,"l":0.67,"r":0},{"p":72.3626,"l":0.64,"r":0},{"p":72.3669,"l":0.64,"r":0},{"p":72.3679,"l":0.8,"r":0},{"p":72.3732,"l":0.76,"r":0},{"p":72.3711,"l":0.68,"r":0},{"p":72.369,"l":0.54,"r":0},{"p":72.3743,"l":0.54,"r":0},{"p":72.3775,"l":0.5,"r":0},{"p":72.3812,"l":0.44,"r":0},{"p":72.3302,"l":0.72,"r":0},{"p":72.3429,"l":0.72,"r":0},{"p":72.3467,"l":0.64,"r":0},{"p":72.3424,"l":0.57,"r":0},{"p":72.336,"l":0.7,"r":0},{"p":72.3387,"l":0.6,"r":0},{"p":72.3413,"l":0.44,"r":0},{"p":72.3328,"l":0.58,"r":0},{"p":72.327,"l":0.62,"r":0},{"p":72.3249,"l":0.84,"r":0},{"p":72.3265,"l":0.9,"r":0},{"p":72.3222,"l":0.74,"r":0},{"p":72.3185,"l":0.74,"r":0},{"p":72.3158,"l":0.6,"r":0},{"p":72.3195,"l":0.46,"r":0},{"p":72.3126,"l":0.46,"r":0},{"p":72.3068,"l":0.7,"r":0},{"p":72.31,"l":0.78,"r":0},{"p":72.3036,"l":0.62,"r":0},{"p":72.3004,"l":0.65,"r":0},{"p":72.2978,"l":0.54,"r":0},{"p":72.294,"l":0.7,"r":0},{"p":72.2898,"l":0.76,"r":0},{"p":72.2845,"l":0.74,"r":0},{"p":72.2823,"l":0.82,"r":0},{"p":72.302,"l":0.46,"r":0},{"p":72.2893,"l":0.44,"r":0},{"p":72.2786,"l":0.5,"r":0},{"p":72.2765,"l":0.76,"r":0},
{"p":72.48,"l":2.28,"r":0},{"p":72.4803,"l":2.27,"r":0},{"p":72.4779,"l":2.12,"r":0},{"p":72.4852,"l":2.07,"r":0},{"p":72.4641,"l":2.41,"r":0},{"p":72.4665,"l":2.34,"r":0},{"p":72.4633,"l":2.26,"r":0},{"p":72.4573,"l":2.25,"r":0},{"p":72.4557,"l":2.15,"r":0},{"p":72.4676,"l":2.14,"r":0},{"p":72.4706,"l":2.1,"r":0},{"p":72.4576,"l":1.98,"r":0},{"p":72.4649,"l":1.94,"r":0},{"p":72.4602,"l":1.84,"r":0},{"p":72.4557,"l":1.79,"r":0},{"p":72.453,"l":1.86,"r":0},{"p":72.4521,"l":1.8,"r":0},{"p":72.4654,"l":1.82,"r":0},{"p":72.4643,"l":1.71,"r":0},{"p":72.4687,"l":1.7,"r":0},{"p":72.4676,"l":1.64,"r":0},{"p":72.4687,"l":1.63,"r":0},{"p":72.46,"l":1.58,"r":0},{"p":72.4578,"l":1.58,"r":0},{"p":72.4557,"l":1.56,"r":0},{"p":72.4636,"l":1.44,"r":0},{"p":72.4698,"l":1.41,"r":0},{"p":72.4445,"l":1.37,"r":0},{"p":72.4421,"l":1.26,"r":0},{"p":72.4573,"l":1.22,"r":0},{"p":72.451,"l":1.01,"r":0},{"p":72.4578,"l":1.01,"r":0},{"p":72.4448,"l":0.92,"r":0},{"p":72.4427,"l":0.8,"r":0},{"p":72.4508,"l":0.74,"r":0},{"p":72.4535,"l":0.81,"r":0},{"p":72.4551,"l":0.68,"r":0},{"p":72.4524,"l":0.62,"r":0},{"p":72.4611,"l":0.89,"r":0},{"p":72.4629,"l":0.85,"r":0},{"p":72.4667,"l":0.73,"r":0},{"p":72.4757,"l":0.94,"r":0},{"p":72.48,"l":1.7,"r":0},{"p":72.4795,"l":1.62,"r":0},{"p":72.484,"l":1.54,"r":0},{"p":72.4865,"l":1.58,"r":0},{"p":72.4887,"l":1.51,"r":0},{"p":72.4907,"l":1.33,"r":0},{"p":72.4925,"l":1.74,"r":0},{"p":72.4939,"l":1.63,"r":0},{"p":72.4952,"l":1.54,"r":0},{"p":72.4968,"l":1.42,"r":0},{"p":72.4954,"l":1.95,"r":0},{"p":72.5107,"l":2.16,"r":0},{"p":72.5139,"l":1.85,"r":0},{"p":72.4985,"l":1.71,"r":0},{"p":72.4999,"l":1.62,"r":0},{"p":72.502,"l":1.47,"r":0},{"p":72.5044,"l":1.49,"r":0},{"p":72.5004,"l":1.36,"r":0},{"p":72.5001,"l":1.24,"r":0},{"p":72.4985,"l":1.13,"r":0},{"p":72.5012,"l":1.09,"r":0},{"p":72.5077,"l":1.69,"r":0},{"p":72.5095,"l":1.69,"r":0},{"p":72.5112,"l":1.58,"r":0},{"p":72.5139,"l":1.61,"r":0},{"p":72.5125,"l":1.41,"r":0},{"p":72.5115,"l":1.35,"r":0},{"p":72.519,"l":1.29,"r":0},{"p":72.5145,"l":1.18,"r":0},{"p":72.5125,"l":1.14,"r":0},{"p":72.5087,"l":1.08,"r":0},{"p":72.5139,"l":1.04,"r":0},{"p":72.5106,"l":0.92,"r":0},{"p":72.519,"l":1.03,"r":0},{"p":72.5201,"l":0.98,"r":0},{"p":72.4947,"l":1.03,"r":0},{"p":72.483,"l":1.02,"r":0},{"p":72.4855,"l":0.96,"r":0},{"p":72.4849,"l":0.83,"r":0},{"p":72.4803,"l":0.78,"r":0},{"p":72.4833,"l":0.72,"r":0},{"p":72.4925,"l":0.78,"r":0},{"p":72.4914,"l":0.9,"r":0},{"p":72.4889,"l":0.82,"r":0},{"p":72.4914,"l":0.6,"r":0},{"p":72.5017,"l":0.96,"r":0},{"p":72.5033,"l":0.86,"r":0},{"p":72.5015,"l":0.81,"r":0},{"p":72.4998,"l":0.7,"r":0},{"p":72.502,"l":0.69,"r":0},{"p":72.5071,"l":0.81,"r":0},{"p":72.5109,"l":0.78,"r":0},{"p":72.5269,"l":0.89,"r":0},{"p":72.5326,"l":0.88,"r":0},{"p":72.5344,"l":0.86,"r":0},{"p":72.538,"l":0.78,"r":0},{"p":72.5236,"l":0.82,"r":0},{"p":72.5201,"l":0.79,"r":0},{"p":72.5288,"l":0.74,"r":0},{"p":72.5324,"l":0.68,"r":0},{"p":72.5302,"l":0.59,"r":0},{"p":72.5385,"l":1.33,"r":0},{"p":72.5404,"l":1.37,"r":0},{"p":72.5412,"l":1.26,"r":0},{"p":72.535,"l":2.37,"r":0},{"p":72.5464,"l":1.1,"r":0},{"p":72.5488,"l":1.17,"r":0},{"p":72.5456,"l":1.04,"r":0},{"p":72.5464,"l":0.93,"r":0},{"p":72.5483,"l":0.79,"r":0},{"p":72.5458,"l":0.68,"r":0},{"p":72.5429,"l":0.67,"r":0},{"p":72.5467,"l":0.57,"r":0},{"p":72.541,"l":0.49,"r":0},{"p":72.5423,"l":0.32,"r":0},{"p":72.554,"l":1.32,"r":0},{"p":72.5539,"l":1.17,"r":0},{"p":72.5521,"l":0.94,"r":0},{"p":72.5575,"l":0.94,"r":0},{"p":72.5537,"l":0.82,"r":0},{"p":72.5607,"l":0.89,"r":0},{"p":72.5607,"l":0.74,"r":0},{"p":72.558,"l":0.7,"r":0},{"p":72.5553,"l":0.86,"r":0},{"p":72.564,"l":0.96,"r":0},{"p":72.5658,"l":0.87,"r":0},{"p":72.5583,"l":1.45,"r":0},{"p":72.558,"l":1.38,"r":0},{"p":72.5605,"l":1.59,"r":0},{"p":72.5659,"l":1.45,"r":0},{"p":72.5661,"l":1.25,"r":0},{"p":72.5642,"l":1.18,"r":0},{"p":72.5605,"l":1.18,"r":0},{"p":72.5599,"l":1.11,"r":0},{"p":72.5634,"l":0.62,"r":0},{"p":72.5573,"l":0.6,"r":0},{"p":72.5613,"l":0.58,"r":0},{"p":72.5529,"l":0.57,"r":0},{"p":72.5537,"l":0.46,"r":0},{"p":72.5499,"l":0.54,"r":0},{"p":72.5521,"l":0.38,"r":0},{"p":72.5488,"l":0.28,"r":0},{"p":72.5588,"l":0.44,"r":0},{"p":72.5629,"l":0.44,"r":0},{"p":72.5678,"l":0.44,"r":0},{"p":72.5705,"l":0.42,"r":0},{"p":72.5724,"l":0.48,"r":0},
{"p":72.5716,"l":1.25,"r":0},{"p":72.574,"l":1.23,"r":0},{"p":72.576,"l":1.24,"r":0},{"p":72.578,"l":1.23,"r":0},{"p":72.58,"l":1.22,"r":0},{"p":72.5818,"l":1.24,"r":0},{"p":72.5836,"l":1.22,"r":0},{"p":72.5854,"l":1.23,"r":0},{"p":72.587,"l":1.22,"r":0},{"p":72.5885,"l":1.24,"r":0},{"p":72.59,"l":1.22,"r":0},{"p":72.5918,"l":1.23,"r":0},{"p":72.5935,"l":1.22,"r":0},{"p":72.595,"l":1.23,"r":0},{"p":72.5968,"l":1.22,"r":0},{"p":72.5985,"l":1.24,"r":0},{"p":72.6005,"l":1.25,"r":0},{"p":72.602,"l":1.22,"r":0},{"p":72.604,"l":1.23,"r":0},{"p":72.6062,"l":1.22,"r":0},{"p":72.6082,"l":1.22,"r":0},{"p":72.6095,"l":1.23,"r":0},
{"p":72.5732,"l":1.1,"r":0},{"p":72.5705,"l":0.92,"r":0},{"p":72.5721,"l":0.9,"r":0},{"p":72.5739,"l":0.84,"r":0},{"p":72.5789,"l":0.84,"r":0},{"p":72.5808,"l":0.81,"r":0},{"p":72.5705,"l":0.68,"r":0},{"p":72.5759,"l":0.63,"r":0},{"p":72.5789,"l":0.63,"r":0},{"p":72.5835,"l":1.6,"r":0},{"p":72.5835,"l":1.37,"r":0},{"p":72.5821,"l":1.12,"r":0},{"p":72.5835,"l":0.94,"r":0},{"p":72.5854,"l":0.88,"r":0},{"p":72.5851,"l":0.82,"r":0},{"p":72.5835,"l":0.67,"r":0},{"p":72.5927,"l":0.97,"r":0},{"p":72.5916,"l":0.75,"r":0},{"p":72.5894,"l":0.66,"r":0},{"p":72.5927,"l":0.57,"r":0},{"p":72.5968,"l":0.67,"r":0},{"p":72.5968,"l":0.52,"r":0},{"p":72.6011,"l":1.05,"r":0},{"p":72.6032,"l":0.91,"r":0},{"p":72.6035,"l":0.76,"r":0},{"p":72.6062,"l":0.82,"r":0},{"p":72.6073,"l":0.68,"r":0},{"p":72.6017,"l":0.63,"r":0},{"p":72.6048,"l":0.6,"r":0},{"p":72.6073,"l":0.58,"r":0},{"p":72.5873,"l":0.48,"r":0},{"p":72.5891,"l":0.38,"r":0},{"p":72.5943,"l":0.38,"r":0},{"p":72.5992,"l":0.38,"r":0},{"p":72.6017,"l":0.44,"r":0},{"p":72.6051,"l":0.34,"r":0},{"p":72.6073,"l":0.16,"r":0},{"p":72.6084,"l":0,"r":0},
{"p":72.4115,"l":1.38,"r":0.3},{"p":72.4272,"l":1.37,"r":0.3},{"p":72.4306,"l":1.41,"r":0.3},{"p":72.4338,"l":1.39,"r":0.3},{"p":72.4427,"l":1.49,"r":0.3},{"p":72.4445,"l":1.49,"r":0.3},{"p":72.4508,"l":1.49,"r":0.3},{"p":72.4524,"l":1.48,"r":0.3},{"p":72.4541,"l":1.52,"r":0.3},{"p":72.4618,"l":2.12,"r":0.3},{"p":72.4629,"l":2.1,"r":0.3},{"p":72.4643,"l":2.09,"r":0.3},{"p":72.467,"l":1.88,"r":0.3},{"p":72.4689,"l":1.89,"r":0.3},{"p":72.4738,"l":1.88,"r":0.3},{"p":72.4811,"l":1.62,"r":0.3},{"p":72.4719,"l":2.79,"r":0.3},{"p":72.3621,"l":3.04,"r":0.5},{"p":72.3913,"l":2.14,"r":0.5},{"p":72.3319,"l":4.4,"r":0.9},{"p":72.3777,"l":5.22,"r":0.9},{"p":72.3821,"l":5.05,"r":0.9},{"p":72.4082,"l":5.21,"r":0.9}
]},
"vconcat":[
{"width":1617.5,"height":911.4,"layer":[
{"layer":[
{"data":{"name":"recomb"},"mark":{"type":"line","color":"#3333ff","strokeWidth":4,"clip":true},"encoding":{"x":{"field":"p","type":"quantitative","scale":{"domain":[72.1105,72.6099],"nice":false,"zero":false},"axis":null},"y":{"field":"c","type":"quantitative","scale":{"domain":[-4.8,104.9],"nice":false,"zero":false},"axis":{"orient":"right","values":[0,20,40,60,80,100],"format":"d","title":"Recombination rate (cM/Mb)","labelColor":"#3333ff","titleColor":"#3333ff","tickColor":"#3333ff","domain":false,"labelPadding":21,"titlePadding":11}}}},
{"mark":{"type":"rule","stroke":"#3333ff","strokeWidth":1.5},"encoding":{"x":{"datum":72.6099,"type":"quantitative"},"y":{"datum":0,"type":"quantitative"},"y2":{"datum":100}}}
]},
{"layer":[
{"data":{"name":"special"},"mark":{"type":"point","filled":true,"fill":"#000080","stroke":"#333333","strokeWidth":2.8,"size":380,"opacity":1},"encoding":{"x":{"field":"p","type":"quantitative"},"y":{"field":"l","type":"quantitative","scale":{"domain":[-0.48,10.49],"nice":false,"zero":false},"axis":{"orient":"left","values":[0,2,4,6,8,10],"format":"d","title":"−log₁₀(p−value)","titlePadding":31}},"shape":{"field":"k","type":"nominal","scale":null}}},
{"data":{"name":"pts"},"mark":{"type":"circle","stroke":"#333333","strokeWidth":2.8,"size":125,"opacity":1},"encoding":{"x":{"field":"p","type":"quantitative"},"y":{"field":"l","type":"quantitative"},"fill":{"field":"r","type":"quantitative","scale":{"type":"threshold","domain":[0.2,0.4,0.6,0.8],"range":["#000080","#87CEFA","#00FF00","#FFA500","#FF0000"]},"legend":{"type":"gradient","title":"r²","orient":"none","legendX":1466.5,"legendY":15.4,"direction":"vertical","gradientLength":251,"gradientThickness":33,"gradientStrokeColor":"#4d4d4d","gradientStrokeWidth":2,"labelOffset":26,"labelFontSize":28,"labelColor":"#4d4d4d","labelFont":"Liberation Sans","titleFont":"Liberation Sans","titleFontSize":34,"titleFontWeight":"normal","titleColor":"#4d4d4d","titleAnchor":"middle","titlePadding":5,"padding":19,"strokeColor":"#4d4d4d"}}}},
{"data":{"name":"lead"},"mark":{"type":"circle","fill":"#7D26CD","stroke":"#333333","strokeWidth":2.8,"size":125,"opacity":1},"encoding":{"x":{"field":"p","type":"quantitative"},"y":{"field":"l","type":"quantitative"}}},
{"data":{"name":"lead"},"mark":{"type":"text","fontSize":33.5,"font":"Liberation Sans","color":"black","dy":-35},"encoding":{"x":{"field":"p","type":"quantitative"},"y":{"field":"l","type":"quantitative"},"text":{"field":"snp"}}}
]},
{"data":{"name":"thr"},"mark":{"type":"rule","stroke":"#4d4d4d","strokeWidth":2},"encoding":{"x":{"datum":72.5691,"type":"quantitative"},"x2":{"datum":72.5842},"y":{"field":"t","type":"quantitative","scale":{"domain":[-2.339,1.292],"nice":false,"zero":false},"axis":null}}}
],"resolve":{"scale":{"y":"independent"},"axis":{"y":"independent"}}},
{"width":1617.5,"height":128,"layer":[
{"data":{"name":"lines"},"mark":{"type":"rule","stroke":"#000080","strokeWidth":2.5},"encoding":{"x":{"field":"s","type":"quantitative","scale":{"domain":[72.1105,72.6099],"nice":false,"zero":false},"axis":{"values":[72.2,72.3,72.4,72.5,72.6],"format":".1f","title":"Position on chr10 (Mb)","labelPadding":27,"titlePadding":18}},"x2":{"field":"e"},"y":{"field":"row","type":"quantitative","scale":{"domain":[0,1]},"axis":null}}},
{"data":{"name":"exons"},"mark":{"type":"rule","stroke":"#000080","strokeWidth":12},"encoding":{"x":{"field":"s","type":"quantitative"},"x2":{"field":"e"},"y":{"field":"row","type":"quantitative"}}},
{"data":{"name":"genes"},"mark":{"type":"text","fontSize":28,"fontStyle":"italic","font":"Liberation Sans","color":"black"},"encoding":{"x":{"field":"p","type":"quantitative"},"y":{"field":"y","type":"quantitative"},"text":{"field":"g"}}},
{"data":{"name":"arrows"},"mark":{"type":"text","fontSize":40,"font":"DejaVu Sans","color":"black"},"encoding":{"x":{"field":"p","type":"quantitative"},"y":{"field":"y","type":"quantitative"},"text":{"field":"a"}}}
]}
],"spacing":20}
